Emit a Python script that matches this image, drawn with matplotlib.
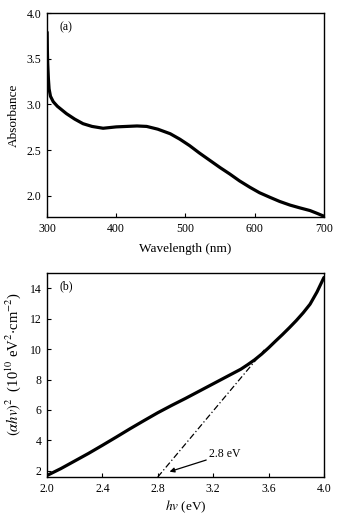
import matplotlib
matplotlib.use("Agg")
import matplotlib.pyplot as plt

plt.rcParams['font.family'] = ['Liberation Serif', 'DejaVu Serif']
plt.rcParams['mathtext.fontset'] = 'stix'

# Panel (a): absorbance spectrum
wavelength = [300.2, 300.5, 301, 302, 303, 305, 309, 315, 328, 340, 352, 365, 381, 400, 415,
              430, 444, 460, 478, 492, 506, 520, 535, 550, 564, 578, 593, 607, 622, 636,
              651, 665, 680, 690, 699.5]
absorbance = [3.79, 3.60, 3.45, 3.28, 3.17, 3.09, 3.03, 2.98, 2.90, 2.84, 2.79, 2.76, 2.74, 2.755, 2.76,
              2.765, 2.76, 2.73, 2.68, 2.62, 2.55, 2.47, 2.39, 2.31, 2.24, 2.165, 2.095, 2.035, 1.985, 1.94,
              1.90, 1.87, 1.84, 1.81, 1.78]

# Panel (b): Tauc plot
energy = [2.0, 2.1, 2.2, 2.3, 2.4, 2.5, 2.6, 2.7, 2.8, 2.9, 3.0, 3.1, 3.2, 3.3, 3.4,
          3.45, 3.5, 3.55, 3.6, 3.65, 3.7, 3.75, 3.8, 3.85, 3.9, 3.95, 4.0]
tauc = [1.7, 2.15, 2.65, 3.15, 3.68, 4.22, 4.77, 5.3, 5.82, 6.3, 6.76, 7.24, 7.72, 8.2, 8.68,
        8.98, 9.3, 9.67, 10.08, 10.52, 10.95, 11.4, 11.87, 12.38, 12.95, 13.75, 14.7]

# Extrapolation line and band gap
fit_x = [2.8, 3.57]
fit_y = [1.6, 9.95]
band_gap = 2.8

fig = plt.figure(figsize=(3.54, 5.16), dpi=100)
ax1 = fig.add_axes([0.1328, 0.5795, 0.915 - 0.1328, 0.9748 - 0.5795])
ax2 = fig.add_axes([0.1328, 0.0756, 0.915 - 0.1328, 0.471 - 0.0756])

fs = 8.5
lfs = 9.5
ax1.plot(wavelength, absorbance, color='black', lw=2.3, solid_capstyle='round',
         solid_joinstyle='round')
ax1.set_xlim(300, 700)
ax1.set_ylim(1.77, 4.0)
ax1.set_xticks([300, 400, 500, 600, 700])
ax1.set_yticks([2.0, 2.5, 3.0, 3.5, 4.0])
ax1.set_yticklabels(['2.0', '2.5', '3.0', '3.5', '4.0'])
ax1.set_xlabel('Wavelength (nm)', fontsize=lfs, labelpad=6)
ax1.set_ylabel('Absorbance', fontsize=lfs, labelpad=5)
ax1.text(0.045, 0.93, '(a)', transform=ax1.transAxes, fontsize=8.5, va='center')

ax2.plot(energy, tauc, color='black', lw=2.3, solid_capstyle='round', solid_joinstyle='round')
ax2.plot(fit_x, fit_y, color='black', lw=0.9, linestyle=(0, (5, 2, 1, 2)))
ax2.set_xlim(2.0, 4.0)
ax2.set_ylim(1.6, 15.0)
ax2.set_xticks([2.0, 2.4, 2.8, 3.2, 3.6, 4.0])
ax2.set_yticks([2, 4, 6, 8, 10, 12, 14])
ax2.set_xlabel(r'$hv$ (eV)', fontsize=lfs, labelpad=3)
ax2.set_ylabel(r'$(\alpha hv)^2$  (10$^{10}$ eV$^2$$\cdot$cm$^{-2}$)', fontsize=10.5)
ax2.yaxis.set_label_coords(-0.088, 0.555)
ax2.text(0.045, 0.935, '(b)', transform=ax2.transAxes, fontsize=8.5, va='center')
ax2.annotate(f'{band_gap} eV', xy=(2.885, 1.95), xytext=(3.17, 3.1), fontsize=8.5,
             va='center', ha='left',
             arrowprops=dict(arrowstyle='-|>', color='black', lw=0.9, mutation_scale=7,
                             shrinkA=0, shrinkB=0))

for ax in (ax1, ax2):
    ax.tick_params(direction='in', length=3, width=0.8, labelsize=fs, pad=4)
    for s in ax.spines.values():
        s.set_linewidth(1.0)

fig.savefig('out.png', dpi=100)
